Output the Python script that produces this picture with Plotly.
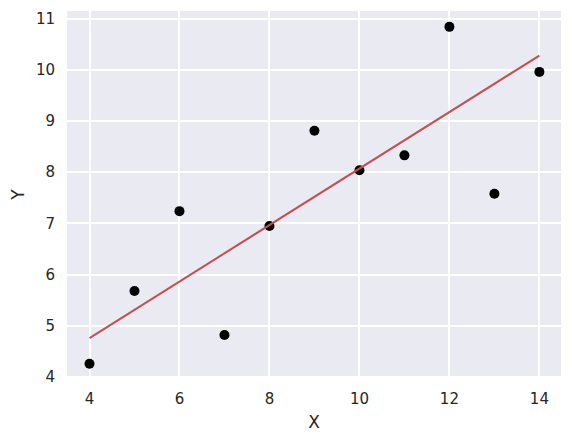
import plotly.graph_objects as go

# Anscombe dataset I
x_vals = [10, 8, 13, 9, 11, 14, 6, 4, 12, 7, 5]
y_vals = [8.04, 6.95, 7.58, 8.81, 8.33, 9.96, 7.24, 4.26, 10.84, 4.82, 5.68]

# fitted line endpoints
fit_x = [4, 14]
fit_y = [4.76, 10.28]

BG_COLOR = "#EAEAF2"
TEXT_COLOR = "#262626"

fig = go.Figure()
fig.add_trace(go.Scatter(
    x=x_vals, y=y_vals, mode="markers",
    marker=dict(color="black", size=10),
))
fig.add_trace(go.Scatter(
    x=fit_x, y=fit_y, mode="lines",
    line=dict(color="#C44E52", width=2),
))

axis_common = dict(
    showgrid=True, gridcolor="white", gridwidth=1.5,
    zeroline=False, showline=False,
    ticks="outside", tickcolor="rgba(0,0,0,0)",
    tickfont=dict(size=15, color=TEXT_COLOR),
    title_font=dict(size=17, color=TEXT_COLOR),
    automargin=False,
)

# the page body adds an 8px offset, so the figure is 8px smaller
fig.update_layout(
    width=564, height=433,
    paper_bgcolor="white", plot_bgcolor=BG_COLOR,
    font=dict(family="DejaVu Sans", color=TEXT_COLOR),
    margin=dict(l=59, r=11, t=3, b=63, autoexpand=False),
    showlegend=False,
    xaxis=dict(range=[3.5, 14.48], tickvals=[4, 6, 8, 10, 12, 14], ticklen=7,
               title=dict(text="X", standoff=9), **axis_common),
    yaxis=dict(range=[3.98, 11.15], tickvals=[4, 5, 6, 7, 8, 9, 10, 11], ticklen=8,
               title=dict(text="Y", standoff=10), **axis_common),
)

fig.write_html("out.html")
